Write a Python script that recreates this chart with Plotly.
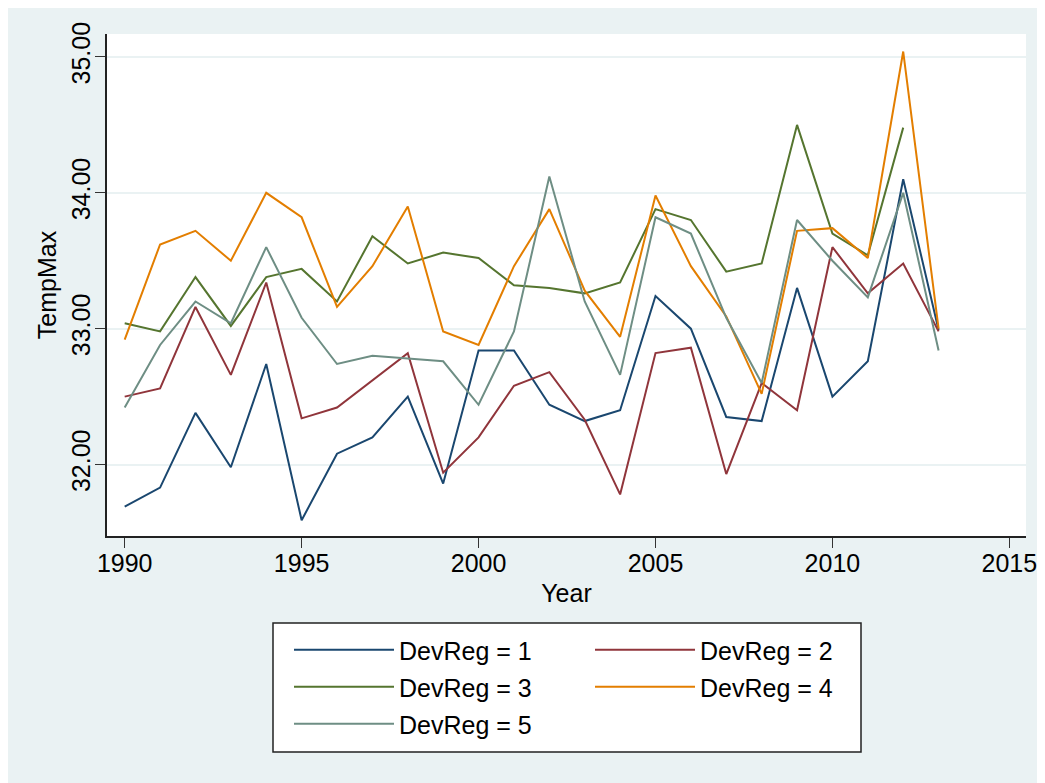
import plotly.graph_objects as go

years = list(range(1990, 2014))
dev1 = [31.69, 31.83, 32.38, 31.98, 32.74, 31.59, 32.08, 32.20, 32.50, 31.86, 32.84, 32.84,
        32.44, 32.32, 32.40, 33.24, 33.00, 32.35, 32.32, 33.30, 32.50, 32.76, 34.10, 32.99]
dev2 = [32.50, 32.56, 33.16, 32.66, 33.34, 32.34, 32.42, 32.62, 32.82, 31.94, 32.20, 32.58,
        32.68, 32.33, 31.78, 32.82, 32.86, 31.93, 32.60, 32.40, 33.60, 33.26, 33.48, 32.98]
dev3 = [33.04, 32.98, 33.38, 33.02, 33.38, 33.44, 33.20, 33.68, 33.48, 33.56, 33.52, 33.32,
        33.30, 33.26, 33.34, 33.88, 33.80, 33.42, 33.48, 34.50, 33.70, 33.54, 34.48, None]
dev4 = [32.92, 33.62, 33.72, 33.50, 34.00, 33.82, 33.16, 33.46, 33.90, 32.98, 32.88, 33.46,
        33.88, 33.28, 32.94, 33.98, 33.46, 33.09, 32.52, 33.72, 33.74, 33.52, 35.04, 33.00]
dev5 = [32.42, 32.88, 33.20, 33.04, 33.60, 33.08, 32.74, 32.80, 32.78, 32.76, 32.44, 32.98,
        34.12, 33.20, 32.66, 33.82, 33.70, 33.08, 32.60, 33.80, 33.50, 33.23, 34.00, 32.84]

series_names = ["DevReg = 1", "DevReg = 2", "DevReg = 3", "DevReg = 4", "DevReg = 5"]
series_values = [dev1, dev2, dev3, dev4, dev5]
colors = ["#1a476f", "#90353b", "#55752f", "#e37e00", "#6e8e84"]
legend_ids = ["legend", "legend2", "legend", "legend2", "legend"]

x_ticks = [1990, 1995, 2000, 2005, 2010, 2015]
y_ticks = [32, 33, 34, 35]

FONT = "Liberation Sans, Arial, Helvetica, sans-serif"
BG = "#eaf2f3"

# figure geometry (page body adds an 8px offset)
W, H = 1037, 775
L, R, T, B = 99, 1018, 26, 528
PW, PH = R - L, B - T

def px(xp):
    return (xp - L) / PW

def py(yp):
    return (B - yp) / PH

fig = go.Figure()
for name, vals, col, lg in zip(series_names, series_values, colors, legend_ids):
    fig.add_trace(go.Scatter(x=years, y=vals, mode="lines", name=name,
                             line=dict(color=col, width=2), legend=lg,
                             legendgroup=name, connectgaps=False))

shapes = [
    dict(type="rect", xref="paper", yref="paper", x0=px(265), x1=px(853), y0=py(744), y1=py(615),
         fillcolor="white", line=dict(color="#222222", width=1.5), layer="below"),
]

fig.update_layout(
    width=W, height=H,
    margin=dict(l=L, r=W - R, t=T, b=H - B, autoexpand=False),
    paper_bgcolor=BG, plot_bgcolor="white",
    font=dict(family=FONT, size=25, color="black"),
    shapes=shapes,
    xaxis=dict(range=[1989.5, 2015.47], tickvals=x_ticks, ticks="outside", ticklen=10,
               tickcolor="#333333", tickwidth=1.2, showline=True, linecolor="#222222",
               linewidth=1.5, showgrid=False, zeroline=False, automargin=False,
               ticklabelstandoff=-6,
               title=dict(text="Year", font=dict(size=25), standoff=9),
               tickfont=dict(size=25)),
    yaxis=dict(range=[31.474, 35.169], tickvals=y_ticks, tickformat=".2f", ticks="outside",
               ticklen=10, tickcolor="#333333", tickwidth=1.2, showline=True,
               linecolor="#222222", linewidth=1.5, showgrid=True, gridcolor=BG,
               gridwidth=2, zeroline=False, tickangle=-90, automargin=False,
               ticklabelstandoff=-5,
               title=dict(text="TempMax", font=dict(size=25), standoff=4),
               tickfont=dict(size=25)),
    legend=dict(x=px(281), y=py(619), xanchor="left", yanchor="top",
                orientation="v", bgcolor="rgba(0,0,0,0)", borderwidth=0,
                font=dict(size=25), itemwidth=100, tracegroupgap=1.5),
    legend2=dict(x=px(582), y=py(619), xanchor="left", yanchor="top",
                 orientation="v", bgcolor="rgba(0,0,0,0)", borderwidth=0,
                 font=dict(size=25), itemwidth=100, tracegroupgap=1.5),
)

fig.write_html("out.html")
